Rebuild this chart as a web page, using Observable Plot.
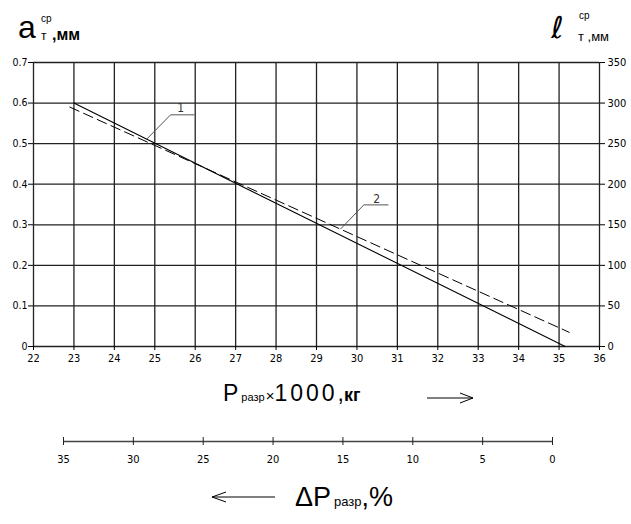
<!DOCTYPE html>
<html><head><meta charset="utf-8">
<script src="https://cdn.jsdelivr.net/npm/d3@7"></script>
<script src="https://cdn.jsdelivr.net/npm/@observablehq/plot@0.6"></script>
<style>
body{margin:0;background:#fff;}
#wrap{position:relative;width:631px;height:524px;overflow:hidden;font-family:"Liberation Sans",Arial,sans-serif;}
#main{position:absolute;left:0;top:0;}
#dp{position:absolute;left:0;top:420px;}
#over{position:absolute;left:0;top:0;pointer-events:none;}
</style></head><body><div id="wrap"><div id="main"></div><div id="dp"></div>
<svg id="over" width="631" height="524" font-family="Liberation Sans, Arial, sans-serif">
  <text x="18" y="38" font-size="32">a</text>
  <text x="41" y="40" font-size="12">т</text>
  <text x="41" y="22" font-size="10">ср</text>
  <text x="52" y="40" font-size="16" font-weight="bold">,мм</text>
  <text x="551" y="38" font-size="30" font-family="DejaVu Sans">ℓ</text>
  <text x="579" y="19" font-size="10">ср</text>
  <text x="578" y="41" font-size="13">т ,мм</text>
  <text x="223" y="401"><tspan font-size="23">P</tspan><tspan font-size="11" dx="3">разр</tspan><tspan font-size="15" dx="1">×</tspan><tspan font-size="23" letter-spacing="3" font-weight="300">1000</tspan><tspan font-size="23">,</tspan><tspan font-size="18" font-weight="bold">кг</tspan></text>
  <path d="M427,398 H473 M473,398 L460,393 M473,398 L460,403" stroke="#000" stroke-width="1" fill="none"/>
  <path d="M212,497 H275 M212,497 L226,492 M212,497 L226,502" stroke="#000" stroke-width="1" fill="none"/>
  <text x="295" y="506"><tspan font-size="27">ΔP</tspan><tspan font-size="13" dx="3">разр</tspan><tspan font-size="27">,%</tspan></text>
</svg>
</div>
<script>
// ---- data ----
const xTicks = [22,23,24,25,26,27,28,29,30,31,32,33,34,35,36];
const yLeftTicks = [0,0.1,0.2,0.3,0.4,0.5,0.6,0.7];
const yRightTicks = [0,50,100,150,200,250,300,350];
const dpTicks = [35,30,25,20,15,10,5,0];
// curve 1 (solid): P (x1000 kg) vs a (mm)
const line1P = [23, 35.15];
const line1A = [0.6, 0];
// curve 2 (dashed)
const line2P = [22.9, 35.25];
const line2A = [0.59, 0.035];
// callouts
const calloutLabels = ["1", "2"];
const calloutP = [[24.78, 25.39, 25.97], [29.6, 30.17, 30.77]];
const calloutA = [[0.509, 0.571, 0.571], [0.29, 0.349, 0.349]];
const calloutTextP = [25.64, 30.49];
const calloutTextA = [0.588, 0.364];

const tickFont = "'Liberation Sans Narrow','DejaVu Sans Condensed',sans-serif";
const line1 = line1P.map((p,i)=>({p, a: line1A[i]}));
const line2 = line2P.map((p,i)=>({p, a: line2A[i]}));
const callouts = calloutLabels.flatMap((lab,k)=>calloutP[k].map((p,i)=>({k:lab, p, a: calloutA[k][i]})));
const calloutText = calloutLabels.map((lab,k)=>({lab, p: calloutTextP[k], a: calloutTextA[k]}));
const rightScale = 500;

const main = Plot.plot({
  width: 631, height: 375,
  marginTop: 62, marginBottom: 29, marginLeft: 33, marginRight: 32,
  x: {domain: [22, 36]},
  y: {domain: [0, 0.7]},
  style: {background: "white"},
  marks: [
    Plot.gridX(xTicks, {stroke: "#222", strokeOpacity: 1, strokeWidth: 1.3}),
    Plot.gridY(yLeftTicks, {stroke: "#222", strokeOpacity: 1, strokeWidth: 1.3}),
    Plot.axisX(xTicks, {tickSize: 4, tickPadding: 4, fontSize: 11, fontFamily: tickFont, label: null}),
    Plot.axisY(yLeftTicks, {anchor: "left", tickSize: 5, tickPadding: 1, fontSize: 10.5, fontFamily: tickFont, label: null, tickFormat: d => d === 0 ? "0" : d3.format(".1f")(d)}),
    Plot.axisY(yRightTicks.map(v => v / rightScale), {anchor: "right", tickSize: 5, tickPadding: 3, fontSize: 11, fontFamily: tickFont, label: null, tickFormat: d => String(Math.round(d * rightScale))}),
    Plot.line(line1, {x: "p", y: "a", stroke: "#000", strokeWidth: 1.1}),
    Plot.line(line2, {x: "p", y: "a", stroke: "#000", strokeWidth: 1, strokeDasharray: "10,5"}),
    Plot.line(callouts, {x: "p", y: "a", z: "k", stroke: "#555", strokeWidth: 1}),
    Plot.text(calloutText, {x: "p", y: "a", text: "lab", fontSize: 12, fill: "#333", fontFamily: tickFont})
  ]
});
document.getElementById("main").appendChild(main);

const dp = Plot.plot({
  width: 631, height: 60,
  marginTop: 17, marginBottom: 35, marginLeft: 63, marginRight: 79,
  x: {domain: [35, 0]},
  y: {domain: [-1, 1], axis: null},
  style: {background: "transparent"},
  marks: [
    Plot.ruleY([0], {x1: 35, x2: 0, stroke: "#444", strokeWidth: 1.3}),
    Plot.ruleX(dpTicks, {x: d => d, y1: -1, y2: 1, stroke: "#222", strokeWidth: 1}),
    Plot.axisX(dpTicks, {tickSize: 0, tickPadding: 10, fontSize: 11, fontFamily: tickFont, label: null})
  ]
});
document.getElementById("dp").appendChild(dp);
</script>
</body></html>
